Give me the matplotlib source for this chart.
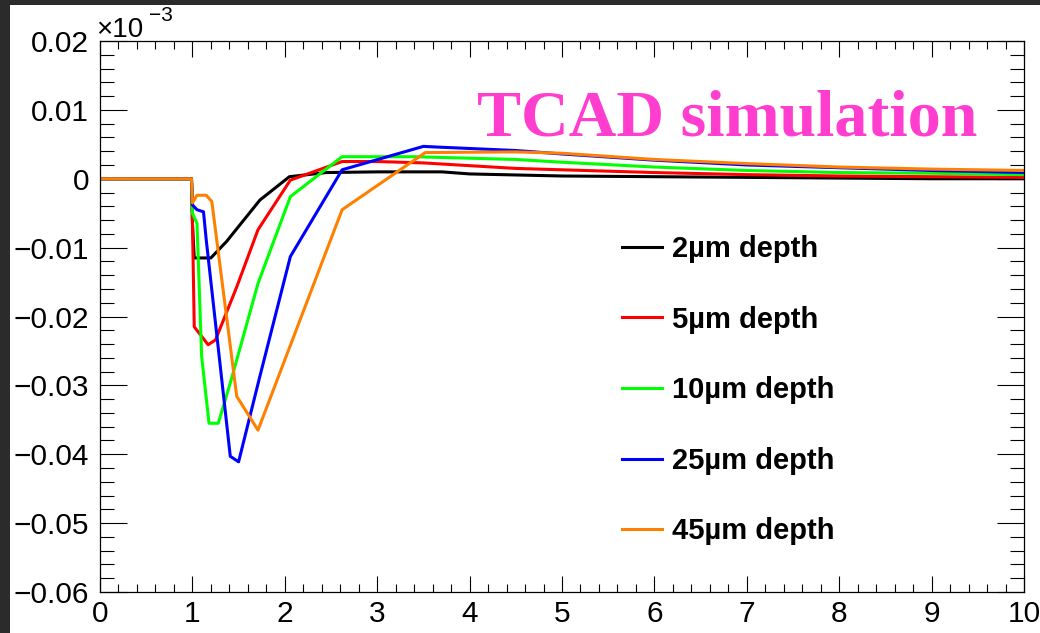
import matplotlib
matplotlib.use("Agg")
import matplotlib.pyplot as plt
from matplotlib.patches import Rectangle
from matplotlib.ticker import MultipleLocator

# signal vs time, TCAD simulation (values in units of 1e-3)
t_2um = [0, 0.99, 1.0, 1.02, 1.2, 1.37, 1.73, 2.05, 2.45, 3.0, 3.7, 4.0, 5.0, 6.0, 7.0, 8.0, 9.0, 10.0]
v_2um = [0, 0, -0.0064, -0.0115, -0.0115, -0.0091, -0.0031, 0.0003, 0.0009, 0.001, 0.001, 0.0007,
         0.0004, 0.0003, 0.0002, 0.0001, 0.0, 0.0]

t_5um = [0, 0.99, 1.0, 1.02, 1.17, 1.25, 1.48, 1.71, 2.06, 2.62, 3.0, 3.5, 4.5, 5.0, 6.0, 7.0, 8.0, 9.0, 10.0]
v_5um = [0, 0, -0.0057, -0.0215, -0.0241, -0.0234, -0.0157, -0.0074, -0.0002, 0.0025, 0.0025, 0.0023,
         0.0015, 0.0013, 0.0009, 0.0006, 0.0004, 0.0003, 0.0002]

t_10um = [0, 0.99, 1.0, 1.05, 1.1, 1.18, 1.28, 1.42, 1.71, 2.06, 2.62, 3.4, 4.5, 5.0, 6.0, 7.0, 8.0, 9.0, 10.0]
v_10um = [0, 0, -0.005, -0.0065, -0.0258, -0.0355, -0.0355, -0.0292, -0.0152, -0.0026, 0.0032, 0.0032,
          0.0028, 0.0024, 0.0017, 0.0012, 0.0009, 0.0008, 0.0006]

t_25um = [0, 0.99, 1.0, 1.05, 1.12, 1.15, 1.41, 1.5, 1.73, 2.06, 2.62, 3.5, 3.65, 4.5, 5.0, 6.0, 7.0, 8.0, 9.0, 10.0]
v_25um = [0, 0, -0.0038, -0.0045, -0.0048, -0.0089, -0.0403, -0.0411, -0.0287, -0.0113, 0.0013, 0.0047,
          0.0046, 0.0041, 0.0036, 0.0027, 0.002, 0.0016, 0.0012, 0.0009]

t_45um = [0, 0.99, 1.0, 1.05, 1.15, 1.21, 1.48, 1.71, 2.62, 3.52, 4.5, 5.0, 6.0, 7.0, 8.0, 9.0, 10.0]
v_45um = [0, 0, -0.0035, -0.0024, -0.0024, -0.0033, -0.0316, -0.0365, -0.0045, 0.0038, 0.0039, 0.0037,
          0.0028, 0.0022, 0.0017, 0.0014, 0.0012]

labels = ["2\u00b5m depth", "5\u00b5m depth", "10\u00b5m depth", "25\u00b5m depth", "45\u00b5m depth"]
colors = ["#000000", "#ff0000", "#00ff00", "#0000ff", "#ff8000"]

y_ticks = [0.02, 0.01, 0, -0.01, -0.02, -0.03, -0.04, -0.05, -0.06]
y_ticklabels = ["0.02", "0.01", "0", "\u22120.01", "\u22120.02", "\u22120.03", "\u22120.04", "\u22120.05", "\u22120.06"]

plt.rcParams['font.family'] = ['Liberation Sans', 'DejaVu Sans']

fig = plt.figure(figsize=(10.4, 6.33), dpi=100)
fig.patch.set_facecolor("#2b2b2b")
# white canvas inside the dark frame
canvas = Rectangle((10 / 1040, 0), 1 - 10 / 1040, 1 - 5 / 633,
                   transform=fig.transFigure, facecolor="white",
                   edgecolor="none", zorder=-10)
fig.add_artist(canvas)

ax = fig.add_axes([100 / 1040, 41 / 633, 924 / 1040, 551 / 633])
ax.set_facecolor("white")
ax.set_zorder(1)

series = [(t_2um, v_2um), (t_5um, v_5um), (t_10um, v_10um), (t_25um, v_25um), (t_45um, v_45um)]
for (t, v), c, lab in zip(series, colors, labels):
    ax.plot(t, v, color=c, lw=2.2, label=lab)

ax.set_xlim(0, 10)
ax.set_ylim(-0.06, 0.02)
ax.set_xticks(range(0, 11))
ax.xaxis.set_minor_locator(MultipleLocator(0.2))
ax.set_yticks(y_ticks)
ax.set_yticklabels(y_ticklabels)
ax.yaxis.set_minor_locator(MultipleLocator(0.002))

ax.tick_params(axis='both', which='both', direction='in', top=True, right=True,
               labelsize=21.5, width=0.8, color='black')
ax.tick_params(axis='x', which='major', length=11.5, pad=6)
ax.tick_params(axis='x', which='minor', length=5.8)
ax.tick_params(axis='y', which='major', length=19.5, pad=8)
ax.tick_params(axis='y', which='minor', length=10)
for s in ax.spines.values():
    s.set_linewidth(0.9)

# exponent label of the y axis
fig.text(96 / 1040, 1 - 37 / 633, "\u00d710", fontsize=20, ha='left', va='baseline', zorder=2)
fig.text(149 / 1040, 1 - 21 / 633, "\u22123", fontsize=15, ha='left', va='baseline', zorder=2)

fig.text(477 / 1040, 1 - 135 / 633, "TCAD simulation", fontsize=47.5, fontweight='bold',
         family=['Liberation Serif', 'DejaVu Serif'], color="#ff3dcf", ha='left', va='baseline',
         zorder=2)

ax.legend(loc='upper left', bbox_to_anchor=(622 / 1040, 1 - 235 / 633),
          bbox_transform=fig.transFigure, frameon=False, borderpad=0, borderaxespad=0,
          prop={'weight': 'bold', 'size': 21}, handlelength=1.38, handletextpad=0.34,
          labelspacing=1.46)

fig.savefig("out.png", dpi=100, facecolor=fig.get_facecolor())
